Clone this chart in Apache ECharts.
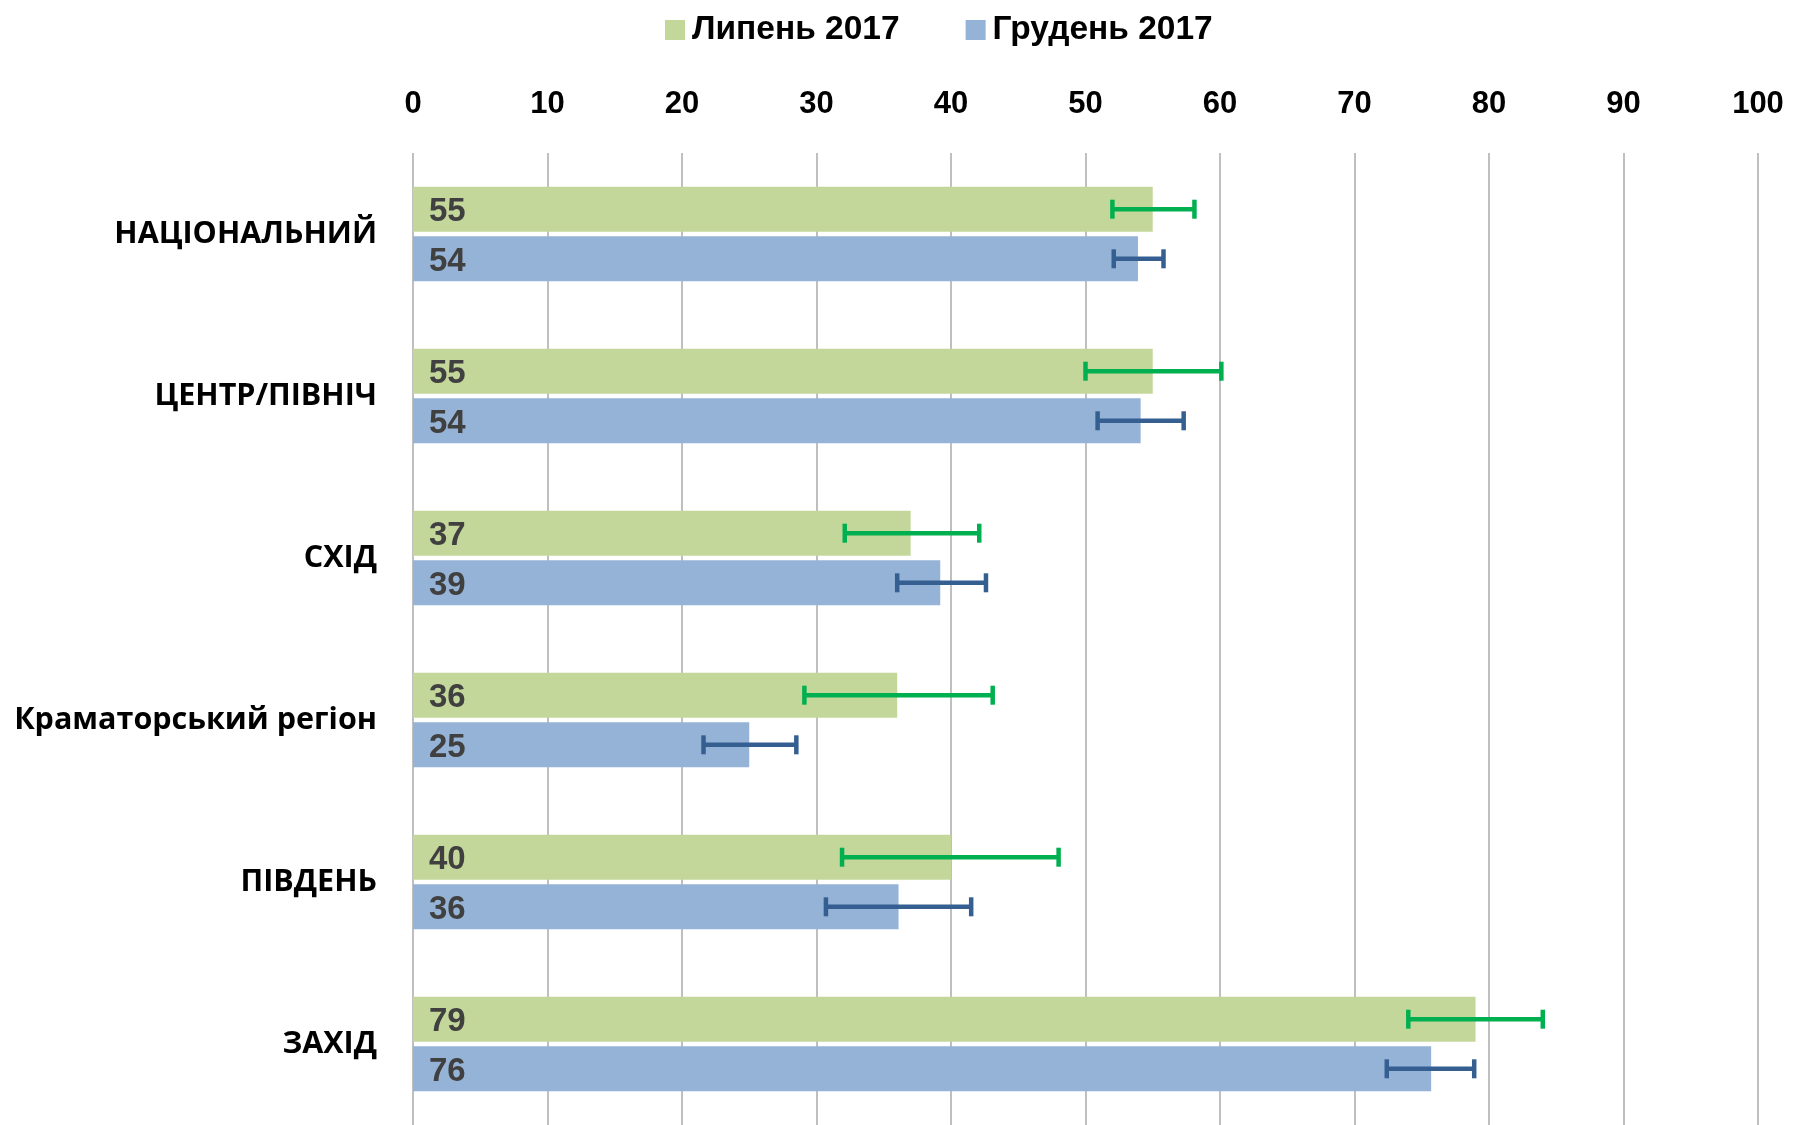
<!DOCTYPE html>
<html>
<head>
<meta charset="utf-8">
<script src="https://cdn.jsdelivr.net/npm/echarts@6/dist/echarts.min.js"></script>
<style>
  html, body { margin: 0; padding: 0; background: #fff; }
  #chart { width: 1796px; height: 1125px; }
</style>
</head>
<body>
<div id="chart"></div>
<script>
// regions, top to bottom
const categories = ['НАЦІОНАЛЬНИЙ', 'ЦЕНТР/ПІВНІЧ', 'СХІД', 'Краматорський регіон', 'ПІВДЕНЬ', 'ЗАХІД'];
const seriesNames = ['Липень 2017', 'Грудень 2017'];

// bar values
const julValues = [55, 55, 37, 36, 40, 79];
const decValues = [53.9, 54.1, 39.2, 25, 36.1, 75.7];

// error bar ranges
const julLow = [52, 50, 32.1, 29.1, 31.9, 74];
const julHigh = [58.1, 60.1, 42.1, 43.1, 48, 84];
const decLow = [52.1, 50.9, 36, 21.6, 30.7, 72.4];
const decHigh = [55.8, 57.3, 42.6, 28.5, 41.5, 78.9];

const xTicks = [0, 10, 20, 30, 40, 50, 60, 70, 80, 90, 100];

const BAR_W = 45;
const GAP = 4.6;
const numFont = '"Liberation Sans", Arial, sans-serif';

const chart = echarts.init(document.getElementById('chart'));

// error bars drawn with a custom series, centred on each bar
function errorSeries(low, high, color, offset) {
  return {
    type: 'custom',
    silent: true,
    z: 5,
    encode: { x: [1, 2], y: 0 },
    data: categories.map((c, i) => [i, low[i], high[i]]),
    renderItem: (params, api) => {
      const a = api.coord([api.value(1), api.value(0)]);
      const b = api.coord([api.value(2), api.value(0)]);
      const y = a[1] + offset;
      const style = { stroke: color, lineWidth: 4.5 };
      return {
        type: 'group',
        children: [
          { type: 'line', shape: { x1: a[0], y1: y, x2: b[0], y2: y }, style },
          { type: 'line', shape: { x1: a[0], y1: y - 9.5, x2: a[0], y2: y + 9.5 }, style },
          { type: 'line', shape: { x1: b[0], y1: y - 9.5, x2: b[0], y2: y + 9.5 }, style }
        ]
      };
    }
  };
}

const barLabel = {
  show: true,
  position: 'insideLeft',
  distance: 16,
  offset: [0, 3],
  color: '#404040',
  fontFamily: numFont,
  fontWeight: 'bold',
  fontSize: 33,
  formatter: p => Math.round(p.value)
};

chart.setOption({
  animation: false,
  legend: {
    data: seriesNames,
    left: 660,
    top: 8,
    icon: 'rect',
    itemWidth: 20,
    itemHeight: 20,
    itemGap: 66,
    textStyle: { fontFamily: numFont, fontWeight: 'bold', fontSize: 33.5, color: '#000', padding: [0, 0, 0, 2] }
  },
  grid: { left: 413, right: 38, top: 153, bottom: 0 },
  xAxis: {
    type: 'value',
    position: 'top',
    min: xTicks[0],
    max: xTicks[xTicks.length - 1],
    interval: 10,
    axisLine: { show: false },
    axisTick: { show: false },
    splitLine: { show: true, lineStyle: { color: '#BFBFBF', width: 2 } },
    axisLabel: { margin: 33, color: '#000', fontFamily: numFont, fontWeight: 'bold', fontSize: 31 }
  },
  yAxis: {
    type: 'category',
    inverse: true,
    data: categories,
    axisLine: { show: false },
    axisTick: { show: false },
    axisLabel: { margin: 36, color: '#000', fontFamily: '"Open Sans", sans-serif', fontWeight: 'bold', fontSize: 30.5 }
  },
  series: [
    {
      name: seriesNames[0],
      type: 'bar',
      data: julValues,
      barWidth: BAR_W,
      barGap: '10%',
      itemStyle: { color: '#C4D79B' },
      label: barLabel
    },
    {
      name: seriesNames[1],
      type: 'bar',
      data: decValues,
      barWidth: BAR_W,
      barGap: '10%',
      itemStyle: { color: '#95B3D7' },
      label: barLabel
    },
    errorSeries(julLow, julHigh, '#00B050', -(BAR_W + GAP) / 2),
    errorSeries(decLow, decHigh, '#355F91', (BAR_W + GAP) / 2)
  ]
});
</script>
</body>
</html>
